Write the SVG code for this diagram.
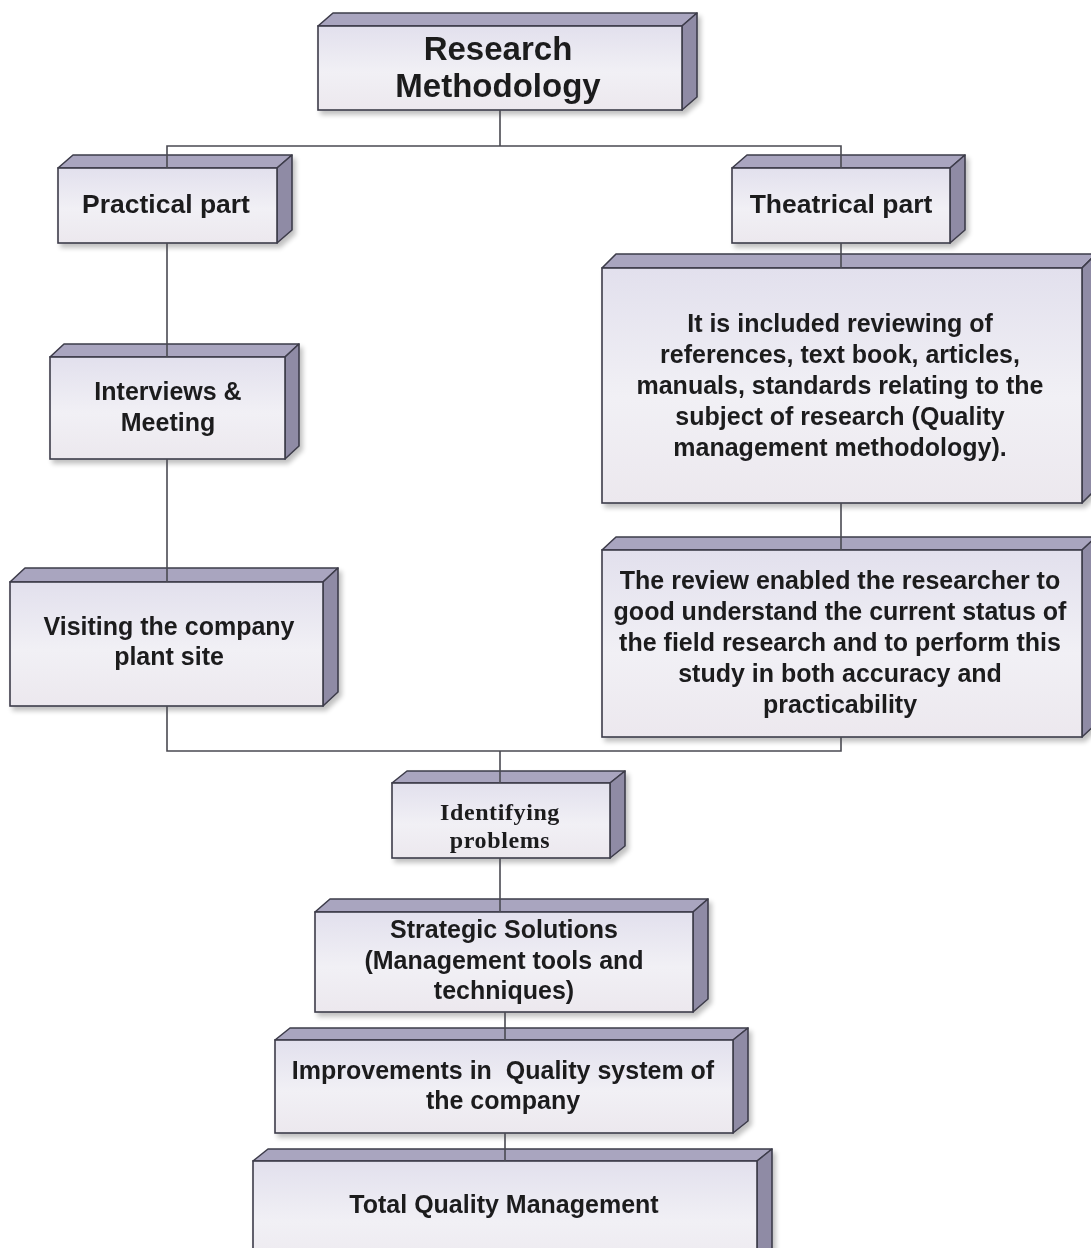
<svg xmlns="http://www.w3.org/2000/svg" width="1091" height="1248" viewBox="0 0 1091 1248">
  <style>
    .front { fill: url(#faceGrad); stroke: #3d3c4a; stroke-width: 1.6; }
    .top { fill: #a9a5bf; stroke: #3d3c4a; stroke-width: 1.6; stroke-linejoin: round; }
    .side { fill: #8f8ba5; stroke: #3d3c4a; stroke-width: 1.6; stroke-linejoin: round; }
    .box { filter: url(#drop); }
    .lbl { font-family: "Liberation Sans", Arial, sans-serif; font-weight: bold; font-size: 25px; fill: #1b1b1f; text-anchor: middle; }
    .big { font-size: 33px; }
    .mid { font-size: 26.5px; }
    .serif { font-family: "Liberation Serif", "Times New Roman", serif; font-size: 24px; letter-spacing: 0.6px; }
    .conn { fill: none; stroke: #4a4a52; stroke-width: 1.6; }
  </style>
  <defs>
    <linearGradient id="faceGrad" x1="0" y1="0" x2="0" y2="1">
      <stop offset="0" stop-color="#e2e0ed"/>
      <stop offset="0.55" stop-color="#f1f0f5"/>
      <stop offset="1" stop-color="#ece8ee"/>
    </linearGradient>
    <filter id="drop" x="-5%" y="-10%" width="115%" height="130%">
      <feGaussianBlur in="SourceAlpha" stdDeviation="2.5"/>
      <feOffset dx="3" dy="4" result="b"/>
      <feComponentTransfer><feFuncA type="linear" slope="0.25"/></feComponentTransfer>
      <feMerge><feMergeNode/><feMergeNode in="SourceGraphic"/></feMerge>
    </filter>
  </defs>

  <rect width="1091" height="1248" fill="#ffffff"/>

  <!-- Research Methodology: front 318..682 x 26..110 -->
  <g id="research-methodology" class="box">
    <polygon class="top" points="318,26 333,13 697,13 682,26"/>
    <polygon class="side" points="682,26 697,13 697,97 682,110"/>
    <rect class="front" x="318" y="26" width="364" height="84"/>
    <text class="lbl big" x="498" y="60">Research</text>
    <text class="lbl big" x="498" y="97">Methodology</text>
  </g>

  <g id="practical-part" class="box">
    <polygon class="top" points="58,168 73,155 292,155 277,168"/>
    <polygon class="side" points="277,168 292,155 292,230 277,243"/>
    <rect class="front" x="58" y="168" width="219" height="75"/>
    <text class="lbl mid" x="166" y="213">Practical part</text>
  </g>

  <g id="theatrical-part" class="box">
    <polygon class="top" points="732,168 747,155 965,155 950,168"/>
    <polygon class="side" points="950,168 965,155 965,230 950,243"/>
    <rect class="front" x="732" y="168" width="218" height="75"/>
    <text class="lbl mid" x="841" y="213">Theatrical part</text>
  </g>

  <g id="literature-review" class="box">
    <polygon class="top" points="602,268 616,254 1096,254 1082,268"/>
    <polygon class="side" points="1082,268 1096,254 1096,489 1082,503"/>
    <rect class="front" x="602" y="268" width="480" height="235"/>
    <text class="lbl" x="840" y="332">It is included reviewing of</text>
    <text class="lbl" x="840" y="363">references, text book, articles,</text>
    <text class="lbl" x="840" y="394">manuals, standards relating to the</text>
    <text class="lbl" x="840" y="425">subject of research (Quality</text>
    <text class="lbl" x="840" y="456">management methodology).</text>
  </g>

  <g id="review-outcome" class="box">
    <polygon class="top" points="602,550 616,537 1096,537 1082,550"/>
    <polygon class="side" points="1082,550 1096,537 1096,724 1082,737"/>
    <rect class="front" x="602" y="550" width="480" height="187"/>
    <text class="lbl" x="840" y="589">The review enabled the researcher to</text>
    <text class="lbl" x="840" y="620">good understand the current status of</text>
    <text class="lbl" x="840" y="651">the field research and to perform this</text>
    <text class="lbl" x="840" y="682">study in both accuracy and</text>
    <text class="lbl" x="840" y="713">practicability</text>
  </g>

  <g id="interviews-meeting" class="box">
    <polygon class="top" points="50,357 64,344 299,344 285,357"/>
    <polygon class="side" points="285,357 299,344 299,446 285,459"/>
    <rect class="front" x="50" y="357" width="235" height="102"/>
    <text class="lbl" x="168" y="400">Interviews &amp;</text>
    <text class="lbl" x="168" y="431">Meeting</text>
  </g>

  <g id="plant-visit" class="box">
    <polygon class="top" points="10,582 25,568 338,568 323,582"/>
    <polygon class="side" points="323,582 338,568 338,692 323,706"/>
    <rect class="front" x="10" y="582" width="313" height="124"/>
    <text class="lbl" x="169" y="635">Visiting the company</text>
    <text class="lbl" x="169" y="665">plant site</text>
  </g>

  <g id="identifying-problems" class="box">
    <polygon class="top" points="392,783 407,771 625,771 610,783"/>
    <polygon class="side" points="610,783 625,771 625,846 610,858"/>
    <rect class="front" x="392" y="783" width="218" height="75"/>
    <text class="lbl serif" x="500" y="820">Identifying</text>
    <text class="lbl serif" x="500" y="848">problems</text>
  </g>

  <g id="strategic-solutions" class="box">
    <polygon class="top" points="315,912 330,899 708,899 693,912"/>
    <polygon class="side" points="693,912 708,899 708,999 693,1012"/>
    <rect class="front" x="315" y="912" width="378" height="100"/>
    <text class="lbl" x="504" y="938">Strategic Solutions</text>
    <text class="lbl" x="504" y="969">(Management tools and</text>
    <text class="lbl" x="504" y="999">techniques)</text>
  </g>

  <g id="quality-improvements" class="box">
    <polygon class="top" points="275,1040 290,1028 748,1028 733,1040"/>
    <polygon class="side" points="733,1040 748,1028 748,1121 733,1133"/>
    <rect class="front" x="275" y="1040" width="458" height="93"/>
    <text class="lbl" x="503" y="1079" xml:space="preserve">Improvements in  Quality system of</text>
    <text class="lbl" x="503" y="1109">the company</text>
  </g>

  <g id="total-quality-management" class="box">
    <polygon class="top" points="253,1161 268,1149 772,1149 757,1161"/>
    <polygon class="side" points="757,1161 772,1149 772,1260 757,1272"/>
    <rect class="front" x="253" y="1161" width="504" height="111"/>
    <text class="lbl" x="504" y="1213">Total Quality Management</text>
  </g>

  <!-- connectors run over the top faces down to each front edge -->
  <g id="connectors" class="conn">
    <path d="M500,110 V146 M167,168 V146 H841 V168"/>
    <path d="M167,243 V357"/>
    <path d="M167,459 V582"/>
    <path d="M167,706 V751 H841 V737"/>
    <path d="M841,243 V268"/>
    <path d="M841,503 V550"/>
    <path d="M500,751 V783"/>
    <path d="M500,858 V912"/>
    <path d="M505,1012 V1040"/>
    <path d="M505,1133 V1161"/>
  </g>
</svg>
